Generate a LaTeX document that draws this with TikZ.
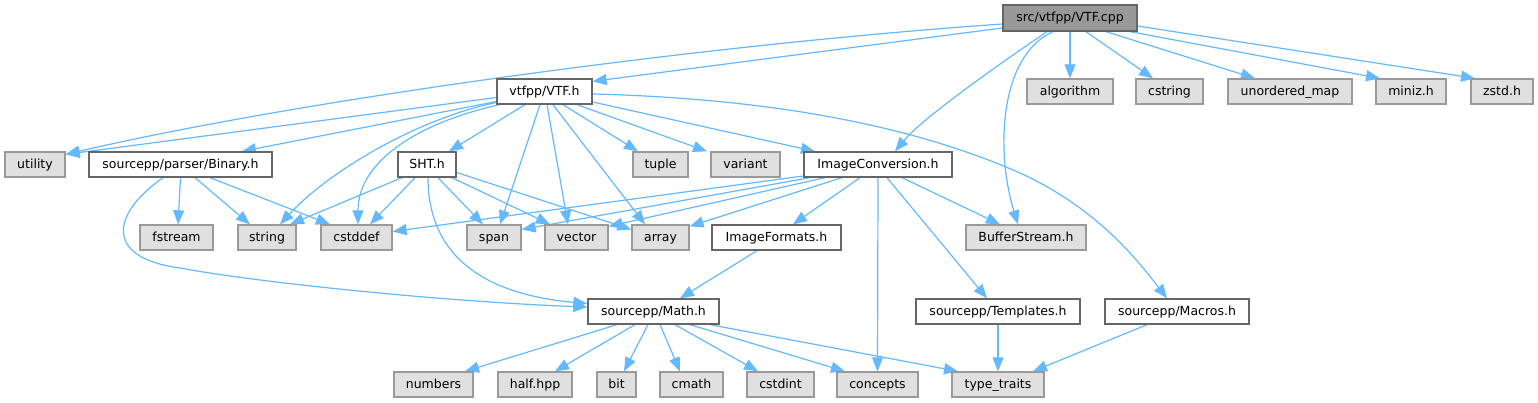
\documentclass[tikz,border=0pt]{standalone}
\usepackage{fontspec}
\setmainfont{DejaVu Sans}
\usetikzlibrary{arrows.meta}
\definecolor{edgec}{HTML}{63B8FF}
\definecolor{rootfill}{HTML}{999999}
\definecolor{darkb}{HTML}{666666}
\definecolor{extfill}{HTML}{E0E0E0}
\definecolor{extb}{HTML}{999999}
\pgfdeclarelayer{bg}
\pgfsetlayers{bg,main}
\begin{document}
\begin{tikzpicture}[x=1pt,y=-1pt,
  base/.style={rectangle, line width=1.3pt, inner sep=0pt, minimum height=25pt,
    text height=10pt, text depth=2pt, font=\fontsize{12.5}{15}\selectfont, anchor=center},
  rootbox/.style={base, fill=rootfill, draw=darkb},
  hbox/.style={base, fill=white, draw=darkb},
  extbox/.style={base, fill=extfill, draw=extb},
  dep/.style={draw=edgec, line width=1.2pt, -{Triangle[length=14pt,width=11pt,fill=edgec]}},
]
\useasboundingbox (0,0) rectangle (1538,403);
% row 0
\node[rootbox, minimum width=134pt, minimum height=26pt] (cpp) at (1070,18) {src/vtfpp/VTF.cpp};
% row 1
\node[hbox, minimum width=95pt] (vtfh) at (544.5,91.5) {vtfpp/VTF.h};
\node[extbox, minimum width=86pt] (algorithm) at (1070,91.5) {algorithm};
\node[extbox, minimum width=67pt] (cstring) at (1169.5,91.5) {cstring};
\node[extbox, minimum width=124pt] (umap) at (1290,91.5) {unordered\_map};
\node[extbox, minimum width=70pt] (miniz) at (1411,91.5) {miniz.h};
\node[extbox, minimum width=62pt] (zstd) at (1502,91.5) {zstd.h};
% row 2
\node[extbox, minimum width=60pt] (utility) at (35,164.5) {utility};
\node[hbox, minimum width=183pt] (binary) at (180.5,164.5) {sourcepp/parser/Binary.h};
\node[hbox, minimum width=58pt] (sht) at (427,164.5) {SHT.h};
\node[extbox, minimum width=55pt] (tuple) at (660.5,164.5) {tuple};
\node[extbox, minimum width=69pt] (variant) at (745.5,164.5) {variant};
\node[hbox, minimum width=148pt] (imgconv) at (878,164.5) {ImageConversion.h};
% row 3
\node[extbox, minimum width=73pt] (fstream) at (176.5,237.5) {fstream};
\node[extbox, minimum width=58pt] (string) at (267,237.5) {string};
\node[extbox, minimum width=71pt] (cstddef) at (356.5,237.5) {cstddef};
\node[extbox, minimum width=54pt] (span) at (494,237.5) {span};
\node[extbox, minimum width=63pt] (vector) at (576.5,237.5) {vector};
\node[extbox, minimum width=57pt] (array) at (660.5,237.5) {array};
\node[hbox, minimum width=129pt] (imgfmt) at (776.5,237.5) {ImageFormats.h};
\node[extbox, minimum width=120pt] (bufstream) at (1026,237.5) {BufferStream.h};
% row 4
\node[hbox, minimum width=131pt] (math) at (653.5,311.5) {sourcepp/Math.h};
\node[hbox, minimum width=164pt] (templates) at (998,311.5) {sourcepp/Templates.h};
\node[hbox, minimum width=144pt] (macros) at (1177,311.5) {sourcepp/Macros.h};
% row 5
\node[extbox, minimum width=79pt] (numbers) at (433.5,384.5) {numbers};
\node[extbox, minimum width=74pt] (half) at (535,384.5) {half.hpp};
\node[extbox, minimum width=39pt] (bit) at (616.5,384.5) {bit};
\node[extbox, minimum width=63pt] (cmath) at (691.5,384.5) {cmath};
\node[extbox, minimum width=67pt] (cstdint) at (780.5,384.5) {cstdint};
\node[extbox, minimum width=81pt] (concepts) at (877.5,384.5) {concepts};
\node[extbox, minimum width=92pt] (typetraits) at (998,384.5) {type\_traits};

\begin{pgfonlayer}{bg}
% VTF.cpp
\draw[dep] (cpp.south) -- (algorithm.north);
\draw[dep] ([xshift=16pt]cpp.south) -- ([xshift=-16.5pt]cstring.north);
\draw[dep] ([xshift=36pt]cpp.south) -- ([xshift=-35pt]umap.north);
\draw[dep] ([xshift=60pt]cpp.south) -- ([xshift=-31pt]miniz.north);
\draw[dep] ([yshift=-8pt]cpp.east) -- ([xshift=-27pt]zstd.north);
\draw[dep] ([xshift=-17pt]cpp.south) .. controls (1000,55) and (995,150) .. ([xshift=-8pt]bufstream.north);
\draw[dep] ([xshift=-23pt]cpp.south) .. controls (1020,50) and (925,115) .. ([xshift=17pt]imgconv.north);
\draw[dep] ([yshift=-10pt]cpp.west) -- ([yshift=-3pt]vtfh.north east);
\draw[dep] ([yshift=-6pt]cpp.west) .. controls (700,45) and (300,100) .. ([yshift=-3pt]utility.north east);
% VTF.h
\draw[dep] ([yshift=-6pt]vtfh.west) -- ([yshift=-3pt]utility.north east);
\draw[dep] ([yshift=-10pt]vtfh.west) -- ([xshift=61.5pt]binary.north);
\draw[dep] ([xshift=-19.5pt]vtfh.south) -- ([xshift=22pt]sht.north);
\draw[dep] ([yshift=-11pt]vtfh.west) .. controls (420,118) and (330,170) .. ([xshift=13pt]string.north);
\draw[dep] ([xshift=3pt]vtfh.south west) .. controls (410,125) and (358,165) .. ([xshift=1.5pt]cstddef.north);
\draw[dep] ([xshift=-4.5pt]vtfh.south) -- ([xshift=6pt]span.north);
\draw[dep] ([xshift=2.5pt]vtfh.south) -- ([xshift=-8.5pt]vector.north);
\draw[dep] ([xshift=8.5pt]vtfh.south) -- ([xshift=-15.5pt]array.north);
\draw[dep] ([xshift=18.5pt]vtfh.south) -- ([xshift=-22.5pt]tuple.north);
\draw[dep] ([xshift=32.5pt]vtfh.south) -- ([xshift=-38.5pt]variant.north);
\draw[dep] ([yshift=-10.5pt]vtfh.east) -- ([xshift=-63pt]imgconv.north);
\draw[dep] ([yshift=-2.5pt]vtfh.east) .. controls (750,98) and (900,120) .. (1020,173) .. controls (1090,205) and (1130,250) .. ([xshift=-10pt]macros.north);
% Binary.h
\draw[dep] (binary.south) -- ([xshift=1.5pt]fstream.north);
\draw[dep] ([xshift=14.5pt]binary.south) -- ([xshift=-17pt]string.north);
\draw[dep] ([xshift=29.5pt]binary.south) -- ([xshift=-26.5pt]cstddef.north);
\draw[dep] ([xshift=-17.5pt]binary.south) .. controls (110,215) and (105,258) .. (180,268) .. controls (260,283) and (450,302) .. ([yshift=4.5pt]math.west);
% SHT.h
\draw[dep] ([xshift=-25pt]sht.south) -- ([xshift=23pt]string.north);
\draw[dep] ([xshift=-12pt]sht.south) -- ([xshift=13.5pt]cstddef.north);
\draw[dep] ([xshift=11pt]sht.south) -- ([xshift=-11pt]span.north);
\draw[dep] ([xshift=25pt]sht.south) -- ([xshift=-26.5pt]vector.north);
\draw[dep] ([yshift=-8pt]sht.east) -- ([yshift=8pt]array.west);
\draw[dep] ([xshift=1pt]sht.south) .. controls (428,260) and (490,295) .. ([yshift=8pt]math.west);
% ImageConversion.h
\draw[dep] ([yshift=-11.5pt]imgconv.west) -- ([yshift=6pt]cstddef.east);
\draw[dep] ([xshift=-68pt]imgconv.south) -- ([yshift=8pt]span.east);
\draw[dep] ([xshift=-53pt]imgconv.south) -- ([yshift=-2pt]vector.north east);
\draw[dep] ([xshift=-36pt]imgconv.south) -- ([yshift=-2pt]array.north east);
\draw[dep] ([xshift=-18pt]imgconv.south) -- ([xshift=16.5pt]imgfmt.north);
\draw[dep] (imgconv.south) -- (concepts.north);
\draw[dep] ([xshift=9pt]imgconv.south) -- ([xshift=-11pt]templates.north);
\draw[dep] ([xshift=24pt]imgconv.south) -- ([xshift=-26pt]bufstream.north);
% ImageFormats.h
\draw[dep] ([xshift=-19.5pt]imgfmt.south) -- ([xshift=26.5pt]math.north);
% Math.h
\draw[dep] ([xshift=-36.5pt]math.south) -- ([xshift=31.5pt]numbers.north);
\draw[dep] ([xshift=-18.5pt]math.south) -- ([xshift=20pt]half.north);
\draw[dep] ([xshift=-5.5pt]math.south) -- ([xshift=7.5pt]bit.north);
\draw[dep] ([xshift=6.5pt]math.south) -- ([xshift=-11.5pt]cmath.north);
\draw[dep] ([xshift=21.5pt]math.south) -- ([xshift=-22.5pt]cstdint.north);
\draw[dep] ([xshift=36.5pt]math.south) -- ([xshift=-32.5pt]concepts.north);
\draw[dep] ([xshift=56.5pt]math.south) -- ([xshift=-40pt]typetraits.north);
% Templates.h, Macros.h
\draw[dep] (templates.south) -- (typetraits.north);
\draw[dep] ([xshift=-30pt]macros.south) -- ([xshift=35pt]typetraits.north);
\end{pgfonlayer}
\end{tikzpicture}
\end{document}
